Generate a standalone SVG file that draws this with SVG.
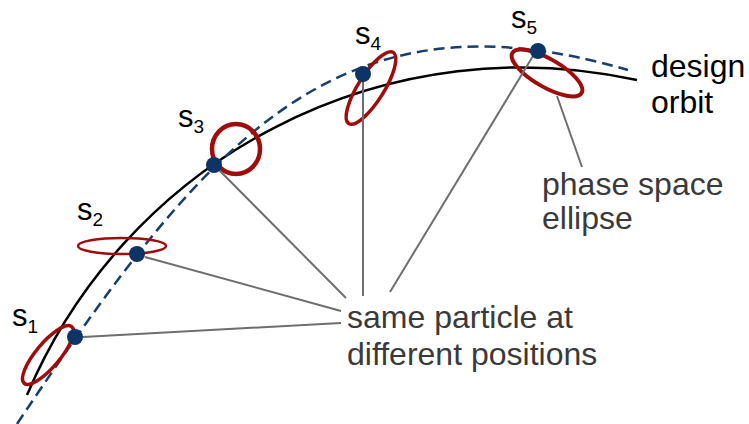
<svg xmlns="http://www.w3.org/2000/svg" width="749" height="424" viewBox="0 0 749 424">
<style>
.orbit{fill:none;stroke:#000;stroke-width:2.5}
.traj{fill:none;stroke:#173e6c;stroke-width:2.5;stroke-dasharray:11 6}
.ell{fill:none;stroke:#a00c0c}
.lead{stroke:#6e6e6e;stroke-width:2;fill:none}
.p{fill:#0d3466}
.lbl{font-family:"Liberation Sans",Arial,sans-serif;font-size:31px;fill:#000}
.sub{font-size:19px}
.big{font-family:"Liberation Sans",Arial,sans-serif;font-size:32px}
</style>
<rect width="749" height="424" fill="#fff"/>
<g id="curves">
<path class="orbit" d="M27,395 A537,537 0 0 1 637,80"/>
<path class="traj" d="M17,424 C211,133 340,-14 628,70"/>
</g>
<g id="ellipses">
<ellipse class="ell" cx="48" cy="355" rx="37" ry="12" transform="rotate(-50 48 355)" stroke-width="3.5"/>
<ellipse class="ell" cx="122" cy="246" rx="44" ry="8" stroke-width="2.5"/>
<ellipse class="ell" cx="236" cy="149" rx="24" ry="25" stroke-width="4.5"/>
<ellipse class="ell" cx="371" cy="88" rx="42" ry="13" transform="rotate(-58 371 88)" stroke-width="3.5"/>
<ellipse class="ell" cx="547" cy="73" rx="40" ry="14" transform="rotate(30 547 73)" stroke-width="4"/>
</g>
<g id="connectors">
<line class="lead" x1="83" y1="337" x2="341" y2="323"/>
<line class="lead" x1="145" y1="257" x2="341" y2="311"/>
<line class="lead" x1="219" y1="170" x2="346" y2="298"/>
<line class="lead" x1="363" y1="80" x2="363" y2="296"/>
<line class="lead" x1="533" y1="56" x2="390" y2="292"/>
<line class="lead" x1="557" y1="96" x2="582" y2="167"/>
</g>
<g id="s1"><circle class="p" cx="75" cy="337" r="8"/><text class="lbl" x="12" y="326">s<tspan class="sub" dy="7">1</tspan></text></g>
<g id="s2"><circle class="p" cx="137" cy="254" r="8"/><text class="lbl" x="77" y="220">s<tspan class="sub" dy="6">2</tspan></text></g>
<g id="s3"><circle class="p" cx="214" cy="165" r="8"/><text class="lbl" x="178" y="127">s<tspan class="sub" dy="6">3</tspan></text></g>
<g id="s4"><circle class="p" cx="363" cy="74" r="8"/><text class="lbl" x="355" y="44">s<tspan class="sub" dy="6">4</tspan></text></g>
<g id="s5"><circle class="p" cx="538" cy="51" r="8"/><text class="lbl" x="511" y="28">s<tspan class="sub" dy="6">5</tspan></text></g>
<g id="design-orbit"><text class="big" fill="#000"><tspan x="651" y="77">design</tspan><tspan x="651" y="113">orbit</tspan></text></g>
<g id="phase-space-ellipse"><text class="big" fill="#3a3a3a"><tspan x="542" y="195">phase space</tspan><tspan x="542" y="229">ellipse</tspan></text></g>
<g id="same-particle"><text class="big" fill="#3a3a3a"><tspan x="347" y="328">same particle at</tspan><tspan x="347" y="365">different positions</tspan></text></g>
</svg>
